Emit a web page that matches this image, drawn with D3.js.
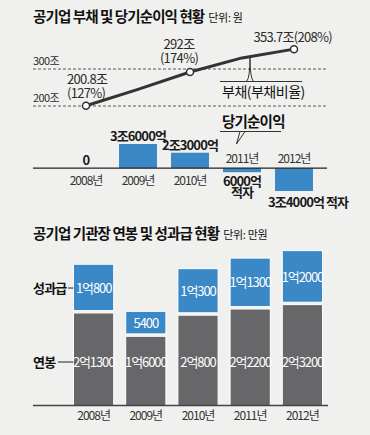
<!DOCTYPE html>
<html>
<head>
<meta charset="utf-8">
<script src="https://cdn.jsdelivr.net/npm/d3@7"></script>
<style>
  html, body { margin: 0; padding: 0; background: #f0f0ee; }
  svg { display: block; }
  text { font-family: "Noto Sans CJK KR", "Noto Sans", sans-serif; }
</style>
</head>
<body>
<svg id="chart"></svg>
<script>
const WIDTH = 370;
const HEIGHT = 435;

const years = ['2008', '2009', '2010', '2011', '2012'];

// 부채 (조 원), 부채비율 (%)
const debt = [200.8, 245, 292, 330, 353.7];
const debtRatio = [127, null, 174, null, 208];
const debtTicks = [200, 300];

// 당기순이익 (조 원)
const netIncome = [0, 3.6, 2.3, -0.6, -3.4];
const netIncomeLabels = ['0', '3조6000억', '2조3000억', '6000억', '3조4000억 적자'];

// 기관장 연봉 / 성과급 (만원)
const salary = [21300, 16000, 20800, 22200, 23200];
const bonus = [10800, 5400, 10300, 11300, 12000];

const BLUE = '#3b88c7';
const GRAY = '#67676a';
const INK = '#2b2b2b';

const svg = d3.select('#chart')
  .attr('width', WIDTH)
  .attr('height', HEIGHT);

const manwon = v => (v >= 10000 ? `${Math.floor(v / 10000)}억${v % 10000}` : `${v}`);

//-------------------------------------------------
// titles

const title = function (y, main, unit) {
  const t = svg.append('text')
    .attr('x', 33)
    .attr('y', y)
    .attr('fill', '#111');
  t.append('tspan')
    .attr('font-size', 14.5)
    .attr('font-weight', 700)
    .attr('letter-spacing', -0.9)
    .text(main);
  t.append('tspan')
    .attr('font-size', 11)
    .attr('dx', 4)
    .attr('letter-spacing', -0.3)
    .text(unit);
};

title(22, '공기업 부채 및 당기순이익 현황', '단위: 원');
title(239, '공기업 기관장 연봉 및 성과급 현황', '단위: 만원');

//-------------------------------------------------
// 부채 line

const xLine = d3.scalePoint()
  .domain(years)
  .range([86, 294]);

const yLine = d3.scaleLinear()
  .domain([200, 300])
  .range([106, 69]);

const lineG = svg.append('g');

lineG.selectAll('line.grid')
  .data(debtTicks)
  .join('line')
  .attr('class', 'grid')
  .attr('x1', 33)
  .attr('x2', 328)
  .attr('y1', d => yLine(d))
  .attr('y2', d => yLine(d))
  .attr('stroke', '#333')
  .attr('stroke-width', 0.8)
  .attr('stroke-dasharray', '3,2');

lineG.selectAll('text.tick')
  .data(debtTicks)
  .join('text')
  .attr('class', 'tick')
  .attr('x', 33)
  .attr('y', d => yLine(d) - 4)
  .attr('font-size', 11)
  .attr('letter-spacing', -0.6)
  .attr('fill', INK)
  .text(d => `${d}조`);

const points = years.map((y, i) => ({ year: y, value: debt[i], ratio: debtRatio[i] }));

lineG.append('path')
  .datum(points)
  .attr('fill', 'none')
  .attr('stroke', '#333')
  .attr('stroke-width', 3)
  .attr('stroke-linejoin', 'round')
  .attr('d', d3.line().x(d => xLine(d.year)).y(d => yLine(d.value)));

const labelled = points.filter(d => d.ratio !== null);

lineG.selectAll('circle')
  .data(labelled)
  .join('circle')
  .attr('cx', d => xLine(d.year))
  .attr('cy', d => yLine(d.value))
  .attr('r', 3.5)
  .attr('fill', '#fff')
  .attr('stroke', '#333')
  .attr('stroke-width', 1.5);

// value labels
const lblStyle = sel => sel
  .attr('font-size', 13)
  .attr('letter-spacing', -0.7)
  .attr('fill', INK);

const p0 = labelled[0];
lineG.append('text').call(lblStyle)
  .attr('x', xLine(p0.year) - 19).attr('y', yLine(p0.value) - 22)
  .text(`${p0.value}조`);
lineG.append('text').call(lblStyle)
  .attr('x', xLine(p0.year) - 19).attr('y', yLine(p0.value) - 8)
  .text(`(${p0.ratio}%)`);

const p1 = labelled[1];
lineG.append('text').call(lblStyle)
  .attr('text-anchor', 'middle')
  .attr('x', xLine(p1.year) - 11).attr('y', yLine(p1.value) - 23)
  .text(`${p1.value}조`);
lineG.append('text').call(lblStyle)
  .attr('text-anchor', 'middle')
  .attr('x', xLine(p1.year) - 11).attr('y', yLine(p1.value) - 9)
  .text(`(${p1.ratio}%)`);

const p2 = labelled[2];
lineG.append('text').call(lblStyle)
  .attr('text-anchor', 'end')
  .attr('x', xLine(p2.year) + 38).attr('y', yLine(p2.value) - 7)
  .text(`${p2.value}조(${p2.ratio}%)`);

// callout 부채(부채비율)
const ax = xLine('2011') + 8;
const t11 = 8 / (xLine('2012') - xLine('2011'));
const ay = yLine(debt[3] + (debt[4] - debt[3]) * t11);
lineG.append('line')
  .attr('x1', 220).attr('x2', 302)
  .attr('y1', 81.5).attr('y2', 81.5)
  .attr('stroke', '#333').attr('stroke-width', 1);
lineG.append('path')
  .attr('d', `M${ax - 3.5},81.5 Q${ax},78 ${ax},${ay + 1} Q${ax},78 ${ax + 3.5},81.5`)
  .attr('fill', 'none')
  .attr('stroke', '#333')
  .attr('stroke-width', 1);
lineG.append('text')
  .attr('x', 222).attr('y', 97)
  .attr('font-size', 14)
  .attr('letter-spacing', -0.5)
  .attr('fill', '#111')
  .text('부채(부채비율)');

//-------------------------------------------------
// 당기순이익 bars

const xBar = d3.scaleBand()
  .domain(years)
  .range([60, 320])
  .paddingInner(0.27)
  .paddingOuter(0.135);

const yBar = d3.scaleLinear()
  .domain([-3.4, 3.6])
  .range([191, 144]);

const barG = svg.append('g');
const incomes = years.map((y, i) => ({ year: y, value: netIncome[i], label: netIncomeLabels[i] }));

barG.selectAll('rect')
  .data(incomes.filter(d => d.value !== 0))
  .join('rect')
  .attr('x', d => xBar(d.year))
  .attr('width', xBar.bandwidth())
  .attr('y', d => yBar(Math.max(0, d.value)))
  .attr('height', d => Math.abs(yBar(d.value) - yBar(0)))
  .attr('fill', BLUE);

barG.append('line')
  .attr('x1', 33).attr('x2', 327)
  .attr('y1', yBar(0)).attr('y2', yBar(0))
  .attr('stroke', '#222')
  .attr('stroke-width', 1.3);

const cx = d => xBar(d.year) + xBar.bandwidth() / 2;

// year labels: below axis for positive, above for negative
barG.selectAll('text.year')
  .data(incomes)
  .join('text')
  .attr('class', 'year')
  .attr('x', cx)
  .attr('y', d => (d.value < 0 ? yBar(0) - 5 : yBar(0) + 17))
  .attr('text-anchor', 'middle')
  .attr('font-size', 12)
  .attr('letter-spacing', -1)
  .attr('fill', '#333')
  .text(d => `${d.year}년`);

const valStyle = sel => sel
  .attr('text-anchor', 'middle')
  .attr('font-size', 13)
  .attr('font-weight', 700)
  .attr('letter-spacing', -0.9)
  .attr('fill', '#1a1a1a');

barG.selectAll('text.val')
  .data(incomes.filter(d => d.value >= 0))
  .join('text')
  .attr('class', 'val')
  .call(valStyle)
  .attr('x', cx)
  .attr('y', d => yBar(d.value) - 3)
  .text(d => d.label);

const d11 = incomes[3];
barG.append('text').call(valStyle)
  .attr('x', cx(d11)).attr('y', yBar(d11.value) + 14)
  .text(d11.label);
barG.append('text').call(valStyle)
  .attr('x', cx(d11)).attr('y', yBar(d11.value) + 25)
  .text('적자');

const d12 = incomes[4];
barG.append('text').call(valStyle)
  .attr('text-anchor', 'start')
  .attr('x', xBar(d12.year) - 7).attr('y', yBar(d12.value) + 16)
  .text(d12.label);

// callout 당기순이익
barG.append('line')
  .attr('x1', 220).attr('x2', 281)
  .attr('y1', 131.5).attr('y2', 131.5)
  .attr('stroke', '#333').attr('stroke-width', 1);
barG.append('path')
  .attr('d', 'M240,131.5 L236.5,144 L245,131.5')
  .attr('fill', 'none')
  .attr('stroke', '#333')
  .attr('stroke-width', 1);
barG.append('text')
  .attr('x', 222).attr('y', 127)
  .attr('font-size', 14.5)
  .attr('font-weight', 700)
  .attr('letter-spacing', -0.8)
  .attr('fill', '#111')
  .text('당기순이익');

//-------------------------------------------------
// 연봉 / 성과급 stacked bars

const xPay = d3.scaleBand()
  .domain(years)
  .range([67.5, 328.5])
  .paddingInner(0.23)
  .paddingOuter(0.115);

const yPay = d3.scaleLinear()
  .domain([0, 36000])
  .range([405.5, 247.1]);

const pay = years.map((y, i) => ({ year: y, salary: salary[i], bonus: bonus[i] }));
const payG = svg.append('g');
const GAP = 1.2;

payG.selectAll('rect.salary')
  .data(pay)
  .join('rect')
  .attr('class', 'salary')
  .attr('x', d => xPay(d.year))
  .attr('width', xPay.bandwidth())
  .attr('y', d => yPay(d.salary) + GAP)
  .attr('height', d => yPay(0) - yPay(d.salary) - GAP)
  .attr('fill', GRAY)
  .attr('stroke', '#fff')
  .attr('stroke-width', 1);

payG.selectAll('rect.bonus')
  .data(pay)
  .join('rect')
  .attr('class', 'bonus')
  .attr('x', d => xPay(d.year))
  .attr('width', xPay.bandwidth())
  .attr('y', d => yPay(d.salary + d.bonus))
  .attr('height', d => yPay(d.salary) - yPay(d.salary + d.bonus) - GAP)
  .attr('fill', BLUE)
  .attr('stroke', '#fff')
  .attr('stroke-width', 1);

payG.append('line')
  .attr('x1', 33).attr('x2', 328)
  .attr('y1', yPay(0)).attr('y2', yPay(0))
  .attr('stroke', '#444')
  .attr('stroke-width', 1.3);

const pcx = d => xPay(d.year) + xPay.bandwidth() / 2;
const inStyle = sel => sel
  .attr('text-anchor', 'middle')
  .attr('font-size', 13)
  .attr('letter-spacing', -1.1)
  .attr('fill', '#fff');

payG.selectAll('text.salary')
  .data(pay)
  .join('text')
  .attr('class', 'salary')
  .call(inStyle)
  .attr('x', pcx)
  .attr('y', 367)
  .text(d => manwon(d.salary));

payG.selectAll('text.bonus')
  .data(pay)
  .join('text')
  .attr('class', 'bonus')
  .call(inStyle)
  .attr('x', pcx)
  .attr('y', d => (yPay(d.salary) + yPay(d.salary + d.bonus)) / 2 + 4.5)
  .text(d => manwon(d.bonus));

payG.selectAll('text.year')
  .data(pay)
  .join('text')
  .attr('class', 'year')
  .attr('x', pcx)
  .attr('y', 420)
  .attr('text-anchor', 'middle')
  .attr('font-size', 12)
  .attr('letter-spacing', -1)
  .attr('fill', '#333')
  .text(d => `${d.year}년`);

// series labels
const seriesStyle = sel => sel
  .attr('font-size', 13)
  .attr('font-weight', 700)
  .attr('letter-spacing', -0.8)
  .attr('fill', '#111');

const bonusY = (yPay(pay[0].salary) + yPay(pay[0].salary + pay[0].bonus)) / 2;
payG.append('text').call(seriesStyle)
  .attr('x', 33).attr('y', bonusY + 5)
  .text('성과급');
payG.append('line')
  .attr('x1', 68).attr('x2', xPay(years[0]))
  .attr('y1', bonusY).attr('y2', bonusY)
  .attr('stroke', '#222').attr('stroke-width', 1);

payG.append('text').call(seriesStyle)
  .attr('x', 33).attr('y', 367)
  .text('연봉');
payG.append('line')
  .attr('x1', 58).attr('x2', xPay(years[0]))
  .attr('y1', 362).attr('y2', 362)
  .attr('stroke', '#222').attr('stroke-width', 1);
</script>
</body>
</html>
